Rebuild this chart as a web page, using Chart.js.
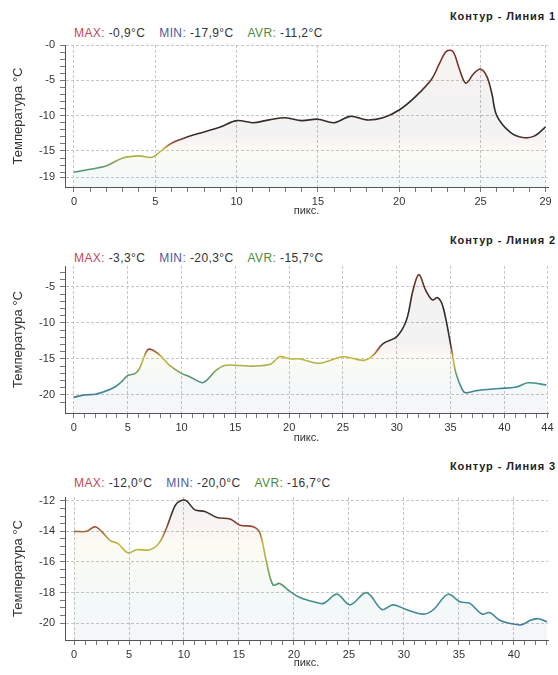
<!DOCTYPE html>
<html>
<head>
<meta charset="utf-8">
<script src="https://cdn.jsdelivr.net/npm/chart.js@4.4.1/dist/chart.umd.min.js"></script>
<style>
  body { margin: 0; background: #fff; width: 558px; height: 675px; position: relative; overflow: hidden;
         font-family: "Liberation Sans", Arial, sans-serif; }
  .plot { position: absolute; left: 0; }
  .ttl { position: absolute; right: 2px; font-weight: bold; font-size: 11px; letter-spacing: 0.9px; color: #222; white-space: nowrap; }
  .stat { position: absolute; left: 74px; font-size: 12px; letter-spacing: 0.4px; color: #333; white-space: nowrap; }
  .stat span { margin-right: 14px; }
  .stat i { font-style: normal; }
  .mx { color: #c4485a; } .mn { color: #4d5a9c; } .av { color: #4e8b3c; }
</style>
</head>
<body>
<div class="ttl" style="top:10px">Контур - Линия 1</div>
<div class="stat" id="s1" style="top:26px"></div>
<canvas class="plot" id="c1" width="558" height="218" style="top:0"></canvas>

<div class="ttl" style="top:234px">Контур - Линия 2</div>
<div class="stat" id="s2" style="top:251px"></div>
<canvas class="plot" id="c2" width="558" height="227" style="top:218px"></canvas>

<div class="ttl" style="top:460px">Контур - Линия 3</div>
<div class="stat" id="s3" style="top:476px"></div>
<canvas class="plot" id="c3" width="558" height="225" style="top:445px"></canvas>

<script>
// Линия 1
const pos1 = [0,1,2,3,4,4.8,5.3,6,7,8,9,10,11,12,13,14,15,16,17,18,19,20,21,22,22.5,22.9,23.3,23.7,24.1,24.6,25,25.4,25.7,26,26.8,27.6,28.3,29];
const temp1 = [-18.0,-17.6,-17.1,-16.0,-15.7,-15.9,-15.1,-13.9,-13.0,-12.3,-11.6,-10.7,-11.0,-10.6,-10.3,-10.7,-10.5,-11.0,-10.1,-10.6,
               -10.3,-9.2,-7.3,-4.8,-2.5,-0.9,-0.9,-3.4,-5.4,-4.0,-3.4,-4.5,-6.9,-10.0,-12.3,-13.1,-12.9,-11.6];
const xTicks1 = [0,5,10,15,20,25,29];
const yTicks1 = [0,-5,-10,-15,-18.7];
const yLabels1 = ['-0','-5','-10','-15','-19'];
const stats1 = ['-0,9','-17,9','-11,2'];

// Линия 2
const pos2 = [0,1,2,2.7,3.8,4.4,5,5.7,6.1,6.8,7.2,8,8.9,10,10.8,11.9,12.3,13.2,14,15.4,16.5,18.3,19.1,20.1,21,22.8,25,26.9,27.8,28.7,
              30,30.9,31.5,32.05,32.7,33.3,33.8,34.3,35.1,35.5,36.1,36.4,37.4,39.5,41.1,42.2,43.9];
const temp2 = [-20.3,-20.0,-19.9,-19.6,-18.9,-18.2,-17.3,-17.0,-16.3,-13.8,-13.7,-14.5,-15.9,-17.0,-17.5,-18.3,-18.0,-16.6,-15.9,-15.9,
               -16.0,-15.7,-14.7,-15.0,-15.0,-15.6,-14.7,-15.2,-14.5,-12.9,-11.9,-9.6,-5.5,-3.3,-5.5,-6.8,-6.5,-7.8,-13.8,-17.0,
               -19.3,-19.7,-19.4,-19.1,-18.9,-18.3,-18.6];
const xTicks2 = [0,5,10,15,20,25,30,35,40,44];
const yTicks2 = [-5,-10,-15,-20];
const yLabels2 = ['-5','-10','-15','-20'];
const stats2 = ['-3,3','-20,3','-15,7'];

// Линия 3
const pos3 = [0,1.15,1.9,2.5,3.3,4.0,4.9,5.7,6.9,7.7,8.4,9.2,9.7,10.2,11.0,11.9,13.0,14.2,15.1,16.3,16.9,17.5,18.1,18.7,19.6,20.5,
              21.8,22.7,23.9,25.1,26.6,28.0,29.0,30.2,31.8,32.7,34.0,35.1,36.0,37.1,37.8,38.7,39.6,40.7,41.5,42.2,43.0];
const temp3 = [-14.0,-14.0,-13.7,-14.0,-14.6,-14.8,-15.4,-15.2,-15.2,-14.8,-13.8,-12.3,-12.0,-12.0,-12.6,-12.7,-13.1,-13.2,-13.6,-13.7,
               -14.1,-16.0,-17.5,-17.4,-17.9,-18.3,-18.6,-18.7,-18.1,-18.8,-18.0,-19.1,-18.8,-19.1,-19.4,-19.1,-18.1,-18.6,-18.7,-19.4,
               -19.3,-19.8,-20.0,-20.1,-19.8,-19.7,-19.9];
const xTicks3 = [0,5,10,15,20,25,30,35,40];
const yTicks3 = [-12,-14,-16,-18,-20];
const yLabels3 = ['-12','-14','-16','-18','-20'];
const stats3 = ['-12,0','-20,0','-16,7'];

// temperature colour scale of the line
const palT = [-21, -19.8, -18.6, -17.3, -16.1, -14.8, -13.7, -12.8, -8, -3, 0];
const palC = ['#4d6b8f','#3f7f98','#3c9096','#5c9868','#a4ad47','#c7b93f','#9c4434','#3a2e2a','#2f2925','#7a3427','#8c2c22'];

Chart.defaults.font.family = '"Liberation Sans", Arial, sans-serif';
Chart.defaults.color = '#333';

function rgba(hex, a) {
  const n = parseInt(hex.slice(1), 16);
  return `rgba(${n >> 16},${(n >> 8) & 255},${n & 255},${a})`;
}

function paint(chart, a) {
  const y = chart.scales.y;
  const t0 = palT[0], t1 = palT[palT.length - 1];
  const g = chart.ctx.createLinearGradient(0, y.getPixelForValue(t0), 0, y.getPixelForValue(t1));
  palT.forEach((t, i) => g.addColorStop((t - t0) / (t1 - t0), a < 1 ? rgba(palC[i], a) : palC[i]));
  return g;
}

function fillStats(id, s) {
  document.getElementById(id).innerHTML =
    `<span><i class="mx">MAX:</i> ${s[0]}°C</span>` +
    `<span><i class="mn">MIN:</i> ${s[1]}°C</span>` +
    `<span><i class="av">AVR:</i> ${s[2]}°C</span>`;
}

function draw(id, o) {
  const isMajorX = v => o.xTicks.includes(v);
  const isMajorY = v => o.yTicks.includes(v);
  new Chart(document.getElementById(id), {
    type: 'line',
    data: {
      datasets: [{
        data: o.pos.map((x, i) => ({ x: x, y: o.temp[i] })),
        borderWidth: 1.6,
        pointRadius: 0,
        tension: 0.35,
        fill: 'start',
        borderColor: c => c.chart.chartArea ? paint(c.chart, 1) : '#333',
        backgroundColor: c => c.chart.chartArea ? paint(c.chart, 0.06) : 'rgba(0,0,0,0)'
      }]
    },
    options: {
      animation: false,
      responsive: false,
      layout: { padding: { top: o.padTop, right: 10, left: 0, bottom: 0 } },
      plugins: { legend: { display: false }, tooltip: { enabled: false } },
      scales: {
        x: {
          type: 'linear', min: o.xMin, max: o.xMax,
          afterBuildTicks: s => {
            const t = [];
            for (let v = 0; v <= o.xMax + 1e-6; v++) t.push({ value: v });
            s.ticks = t;
          },
          afterFit: s => { s.height = o.xH; },
          ticks: { autoSkip: false, maxRotation: 0, padding: 3, color: '#333', font: { size: 11 },
                   callback: v => isMajorX(v) ? String(v) : '' },
          grid: { color: c => c.tick && isMajorX(c.tick.value) ? '#c6c6c6' : 'rgba(0,0,0,0)',
                  tickColor: '#777', tickLength: 5, tickBorderDash: [] },
          border: { color: '#555', dash: [3, 2] },
          title: { display: true, text: 'пикс.', color: '#333', font: { size: 11 }, padding: 0 }
        },
        y: {
          min: o.yMin, max: o.yMax,
          afterBuildTicks: s => {
            const t = [];
            for (let v = o.yRange[0]; v >= o.yRange[1] - 1e-6; v -= o.yStep) t.push(Math.round(v * 100) / 100);
            o.yTicks.forEach(v => { if (!t.includes(v)) t.push(v); });
            s.ticks = t.sort((a, b) => a - b).map(v => ({ value: v }));
          },
          afterFit: s => { s.width = 65; },
          ticks: { autoSkip: false, padding: 5, color: '#333', font: { size: 11 },
                   callback: v => isMajorY(v) ? o.yLabels[o.yTicks.indexOf(v)] : '' },
          grid: { color: c => c.tick && isMajorY(c.tick.value) ? '#c6c6c6' : 'rgba(0,0,0,0)',
                  tickColor: '#777', tickLength: 5, tickBorderDash: [] },
          border: { color: '#555', dash: [3, 2] },
          title: { display: true, text: 'Температура °C', color: '#333', font: { size: 13 }, padding: { top: 11, bottom: 0 } }
        }
      }
    }
  });
}

fillStats('s1', stats1);
fillStats('s2', stats2);
fillStats('s3', stats3);

draw('c1', { pos: pos1, temp: temp1, xTicks: xTicks1, yTicks: yTicks1, yLabels: yLabels1,
             xMin: -0.55, xMax: 29.15, yMin: -20.1, yMax: 0, yRange: [0, -18], yStep: 1, padTop: 45, xH: 31 });
draw('c2', { pos: pos2, temp: temp2, xTicks: xTicks2, yTicks: yTicks2, yLabels: yLabels2,
             xMin: -0.83, xMax: 44.05, yMin: -22.5, yMax: -2.1, yRange: [-3, -21], yStep: 1, padTop: 48, xH: 32 });
draw('c3', { pos: pos3, temp: temp3, xTicks: xTicks3, yTicks: yTicks3, yLabels: yLabels3,
             xMin: -0.82, xMax: 43.1, yMin: -21.09, yMax: -11.76, yRange: [-12, -20], yStep: 0.5, padTop: 52, xH: 30 });
</script>
</body>
</html>
